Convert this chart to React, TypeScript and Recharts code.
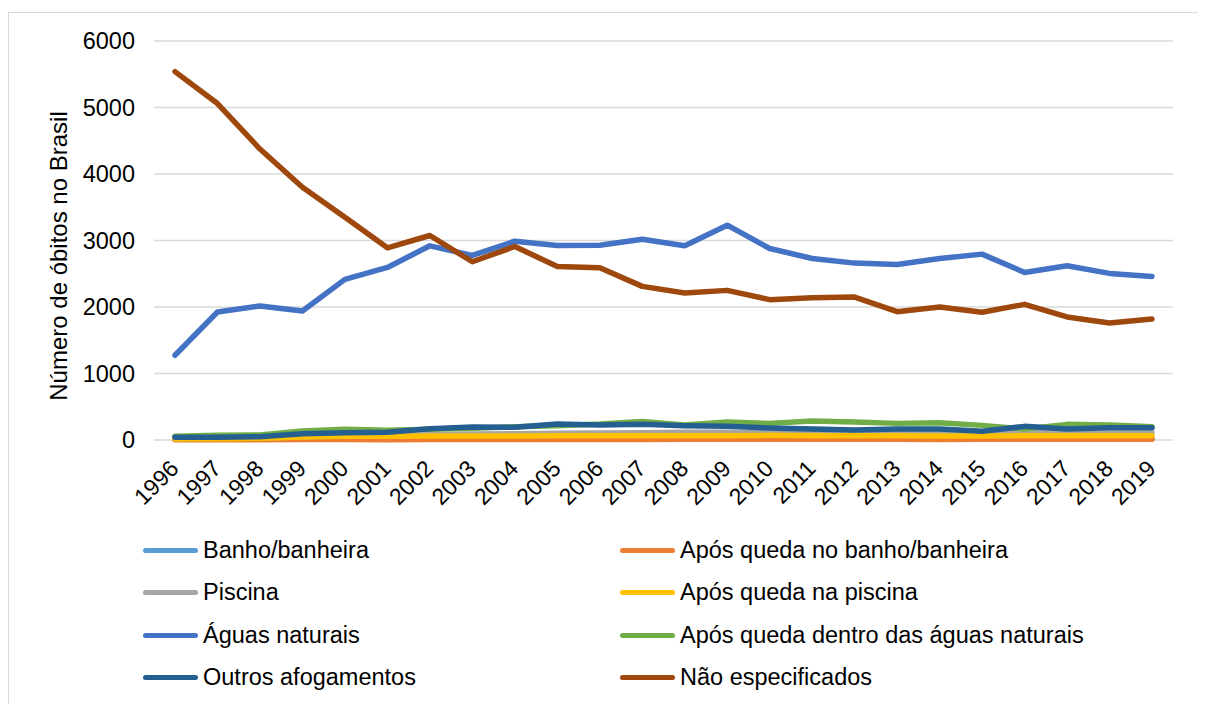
import React from "react";
import { CartesianGrid, Line, LineChart, XAxis, YAxis } from "recharts";

const years = [
  "1996", "1997", "1998", "1999", "2000", "2001", "2002", "2003", "2004", "2005", "2006", "2007",
  "2008", "2009", "2010", "2011", "2012", "2013", "2014", "2015", "2016", "2017", "2018", "2019",
];

const banho = [10, 12, 12, 14, 15, 14, 15, 16, 15, 16, 17, 18, 18, 17, 16, 16, 15, 16, 15, 15, 16, 15, 15, 14];
const aposBanho = [4, 5, 5, 6, 6, 5, 6, 7, 6, 7, 8, 8, 10, 12, 11, 10, 11, 10, 9, 10, 10, 11, 10, 10];
const piscina = [20, 25, 30, 50, 60, 60, 80, 90, 95, 100, 105, 110, 115, 115, 110, 105, 105, 105, 110, 105, 110, 110, 105, 110];
const aposPiscina = [20, 20, 25, 45, 55, 55, 60, 60, 60, 65, 65, 65, 65, 65, 70, 65, 65, 65, 60, 60, 65, 65, 65, 65];
const aguas = [1275, 1925, 2015, 1940, 2415, 2595, 2920, 2775, 2990, 2925, 2930, 3020, 2920, 3230, 2880, 2730, 2660, 2640, 2730, 2795, 2520, 2620, 2505, 2460];
const aposAguas = [55, 70, 75, 135, 160, 145, 160, 175, 200, 215, 240, 280, 225, 270, 250, 285, 270, 250, 260, 220, 165, 235, 225, 200];
const outros = [40, 40, 50, 95, 110, 115, 170, 195, 190, 240, 225, 235, 215, 205, 180, 165, 150, 165, 165, 130, 205, 165, 185, 185];
const naoEsp = [5540, 5060, 4375, 3800, 3350, 2890, 3075, 2680, 2910, 2610, 2590, 2310, 2210, 2250, 2110, 2140, 2150, 1930, 2000, 1920, 2040, 1850, 1760, 1820];

const yTicks = [0, 1000, 2000, 3000, 4000, 5000, 6000];

const series = [
  { key: "banho", name: "Banho/banheira", color: "#5b9bd5", values: banho },
  { key: "aposBanho", name: "Após queda no banho/banheira", color: "#ed7d31", values: aposBanho },
  { key: "piscina", name: "Piscina", color: "#a5a5a5", values: piscina },
  { key: "aposPiscina", name: "Após queda na piscina", color: "#ffc000", values: aposPiscina },
  { key: "aguas", name: "Águas naturais", color: "#4472c4", values: aguas },
  { key: "aposAguas", name: "Após queda dentro das águas naturais", color: "#70ad47", values: aposAguas },
  { key: "outros", name: "Outros afogamentos", color: "#255e91", values: outros },
  { key: "naoEsp", name: "Não especificados", color: "#9e480e", values: naoEsp },
];

const data = years.map((year, i) => {
  const row: Record<string, string | number> = { year };
  series.forEach((s) => (row[s.key] = s.values[i]));
  return row;
});

const FONT = "'Liberation Sans', Arial, sans-serif";

function YearTick({ x, y, payload }: any) {
  const tx = x + 5;
  const ty = y + 30;
  return (
    <text x={tx} y={ty} transform={`rotate(-45, ${tx}, ${ty})`} textAnchor="end" fontSize={23} fontFamily={FONT} fill="#000">
      {payload.value}
    </text>
  );
}

function YLabel() {
  return (
    <text x={49} y={243} transform="rotate(-90, 49, 243)" textAnchor="middle" dy="0.36em" fontSize={24} fontFamily={FONT} fill="#000">
      Número de óbitos no Brasil
    </text>
  );
}

export default function App() {
  return (
    <div
      style={{
        marginTop: 4,
        width: 1204,
        height: 720,
        borderTop: "1px solid #d9d9d9",
        borderLeft: "1px solid #d9d9d9",
        position: "relative",
        boxSizing: "border-box",
        fontFamily: FONT,
      }}
    >
      <style>{`html,body{overflow:hidden}`}</style>
      <LineChart width={1198} height={690} data={data} margin={{ top: 28, right: 34, bottom: 0, left: 0 }}>
        <CartesianGrid vertical={false} stroke="#d9d9d9" strokeWidth={1.5} />
        <XAxis
          dataKey="year"
          axisLine={false}
          tickLine={false}
          tickSize={0}
          tickMargin={0}
          height={263}
          interval={0}
          padding={{ left: 21, right: 21 }}
          tick={<YearTick />}
        />
        <YAxis
          domain={[0, 6000]}
          ticks={yTicks}
          width={145}
          axisLine={false}
          tickLine={false}
          tickSize={0}
          tickMargin={19}
          tick={{ fontSize: 23.5, fill: "#000", fontFamily: FONT }}
          label={<YLabel />}
        />
        {series.map((s) => (
          <Line
            key={s.key}
            dataKey={s.key}
            name={s.name}
            stroke={s.color}
            strokeWidth={5.5}
            strokeLinecap="round"
            strokeLinejoin="round"
            dot={false}
            activeDot={false}
            isAnimationActive={false}
          />
        ))}
      </LineChart>
      <div
        style={{
          position: "absolute",
          left: 134,
          top: 516,
          display: "grid",
          gridTemplateColumns: "477px 477px",
          gridAutoRows: "42.5px",
        }}
      >
        {series.map((s) => (
          <div key={s.key} style={{ display: "flex", alignItems: "center" }}>
            <span style={{ width: 55, height: 5, borderRadius: 3, background: s.color, marginRight: 5 }} />
            <span style={{ fontSize: 23.5, color: "#000" }}>{s.name}</span>
          </div>
        ))}
      </div>
    </div>
  );
}
